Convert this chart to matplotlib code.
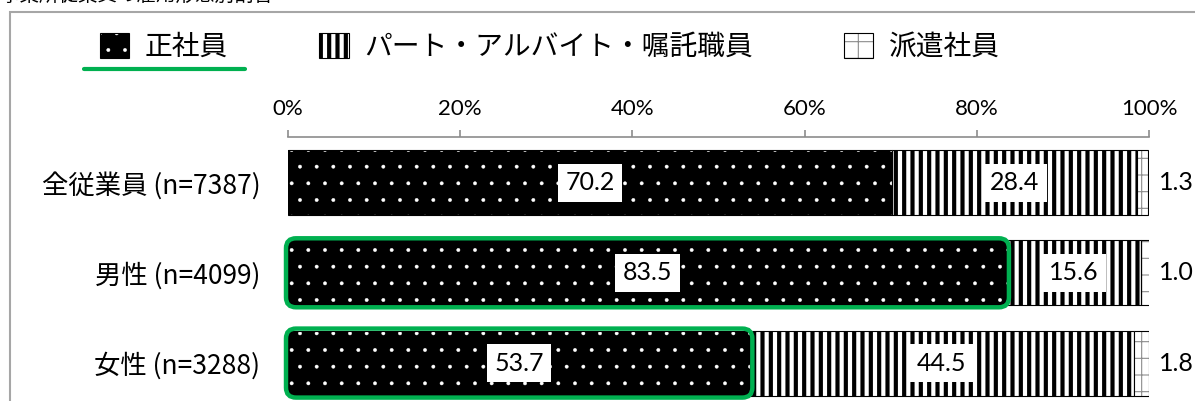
import matplotlib
matplotlib.use('Agg')
import matplotlib.pyplot as plt
import matplotlib.patches as mpatches
from matplotlib.lines import Line2D
from matplotlib.transforms import IdentityTransform
from matplotlib.legend_handler import HandlerTuple

plt.rcParams['font.family'] = ['Noto Sans CJK JP', 'DejaVu Sans']
plt.rcParams['hatch.linewidth'] = 0.8

# Data
categories = ['全従業員 (n=7387)', '男性 (n=4099)', '女性 (n=3288)']
seishain = [70.2, 83.5, 53.7]
part = [28.4, 15.6, 44.5]
haken = [1.3, 1.0, 1.8]
series_names = ['正社員', 'パート・アルバイト・嘱託職員', '派遣社員']
xticks = [0, 20, 40, 60, 80, 100]
highlight_rows = [1, 2]
title = '事業所従業員の雇用形態別割合'

W, H = 1195, 401
fig = plt.figure(figsize=(W / 100, H / 100), dpi=100)
ax = fig.add_axes([288 / W, 0, 861 / W, (H - 137) / H])

y = list(range(len(categories)))
bh = 0.72
green = '#00b050'
num_font = 'Lato'
hatch_widths = {'.': 0.3, '||': 3.0, '+': 0.8}


def hatch_lw(artist, lw):
    # hatch line width per artist (works with old and new matplotlib)
    if hasattr(artist, 'set_hatch_linewidth'):
        artist.set_hatch_linewidth(lw)
    orig = artist.draw

    def draw(renderer, *a, **k):
        with plt.rc_context({'hatch.linewidth': lw}):
            return orig(renderer, *a, **k)
    artist.draw = draw


# 正社員: black with white dots
b1 = ax.barh(y, seishain, height=bh, color='black', edgecolor='white', hatch='.', linewidth=0)
e1 = ax.barh(y, seishain, height=bh, fill=False, edgecolor='black', linewidth=0.8)

# パート: vertical stripes
left2 = seishain
b2 = ax.barh(y, part, left=left2, height=bh, color='white', edgecolor='black', hatch='||', linewidth=0)
e2 = ax.barh(y, part, left=left2, height=bh, fill=False, edgecolor='black', linewidth=0.8)

# 派遣社員: dotted cross
left3 = [a + b for a, b in zip(seishain, part)]
b3 = ax.barh(y, haken, left=left3, height=bh, color='white', edgecolor='#8c8c8c', hatch='+', linewidth=0)
e3 = ax.barh(y, haken, left=left3, height=bh, fill=False, edgecolor='black', linewidth=0.8)

for cont in (b1, b2, b3):
    for p in cont:
        hatch_lw(p, hatch_widths[p.get_hatch()])

ax.set_xlim(0, 100)
ax.set_ylim(2.42, -0.504)

# axes styling
for s in ['bottom', 'left', 'right']:
    ax.spines[s].set_visible(False)
ax.spines['top'].set_color('#8c8c8c')
ax.spines['top'].set_linewidth(1.2)
ax.xaxis.tick_top()
ax.set_xticks(xticks)
ax.set_xticklabels([f'{t}%' for t in xticks], fontsize=16, family=num_font)
ax.tick_params(axis='x', direction='out', length=5, width=1.2, color='#8c8c8c', pad=8)
ax.set_yticks(y)
ax.set_yticklabels(categories, fontsize=19)
ax.tick_params(axis='y', length=0, pad=20)
ax.patch.set_visible(False)

# value labels
box = dict(boxstyle='square,pad=0.3', facecolor='white', edgecolor='none')
for i in y:
    ax.text(seishain[i] / 2, i, f'{seishain[i]:.1f}', ha='center', va='center',
            fontsize=18, family=num_font, bbox=box)
    ax.text(left2[i] + part[i] / 2, i, f'{part[i]:.1f}', ha='center', va='center',
            fontsize=18, family=num_font, bbox=box)
    ax.text(101.2, i, f'{haken[i]:.1f}', ha='left', va='center',
            fontsize=18, family=num_font, clip_on=False)

# green rounded highlight around 正社員 bars
for i in highlight_rows:
    (x0, y0) = ax.transData.transform((0, i + bh / 2))
    (x1, y1) = ax.transData.transform((seishain[i], i - bh / 2))
    r = mpatches.FancyBboxPatch((x0, y0), x1 - x0, y1 - y0,
                                boxstyle='round,pad=2,rounding_size=10',
                                transform=IdentityTransform(), fill=False,
                                edgecolor=green, linewidth=3.2, zorder=5)
    fig.patches.append(r)

# legend
handles = [(b1[0], e1[0]), (b2[0], e2[0]), (b3[0], e3[0])]
leg = fig.legend(handles, series_names, loc='center left',
                 bbox_to_anchor=(100 / W, 1 - 47 / H), ncol=3, frameon=False,
                 fontsize=20, handlelength=1.05, handleheight=1.05,
                 handletextpad=0.55, columnspacing=3.3, borderpad=0,
                 borderaxespad=0, handler_map={tuple: HandlerTuple(ndivide=1, pad=0)})
for r in leg.findobj(mpatches.Rectangle):
    h = r.get_hatch()
    if h in hatch_widths:
        hatch_lw(r, hatch_widths[h])

# green underline under 正社員 legend entry
fig.lines.append(Line2D([84 / W, 245 / W], [1 - 69 / H, 1 - 69 / H], transform=fig.transFigure,
                        color=green, linewidth=3, solid_capstyle='round'))

# outer frame (cropped)
fig.patches.append(mpatches.Rectangle((10 / W, -0.5), 2, 1.5 - 12 / H, transform=fig.transFigure,
                                      fill=False, edgecolor='#a6a6a6', linewidth=1.5))

# title, cut off by the top edge
fig.text(0, 1 + 5 / H, title, fontsize=14, ha='left', va='center')

fig.savefig('out.png', dpi=100)
